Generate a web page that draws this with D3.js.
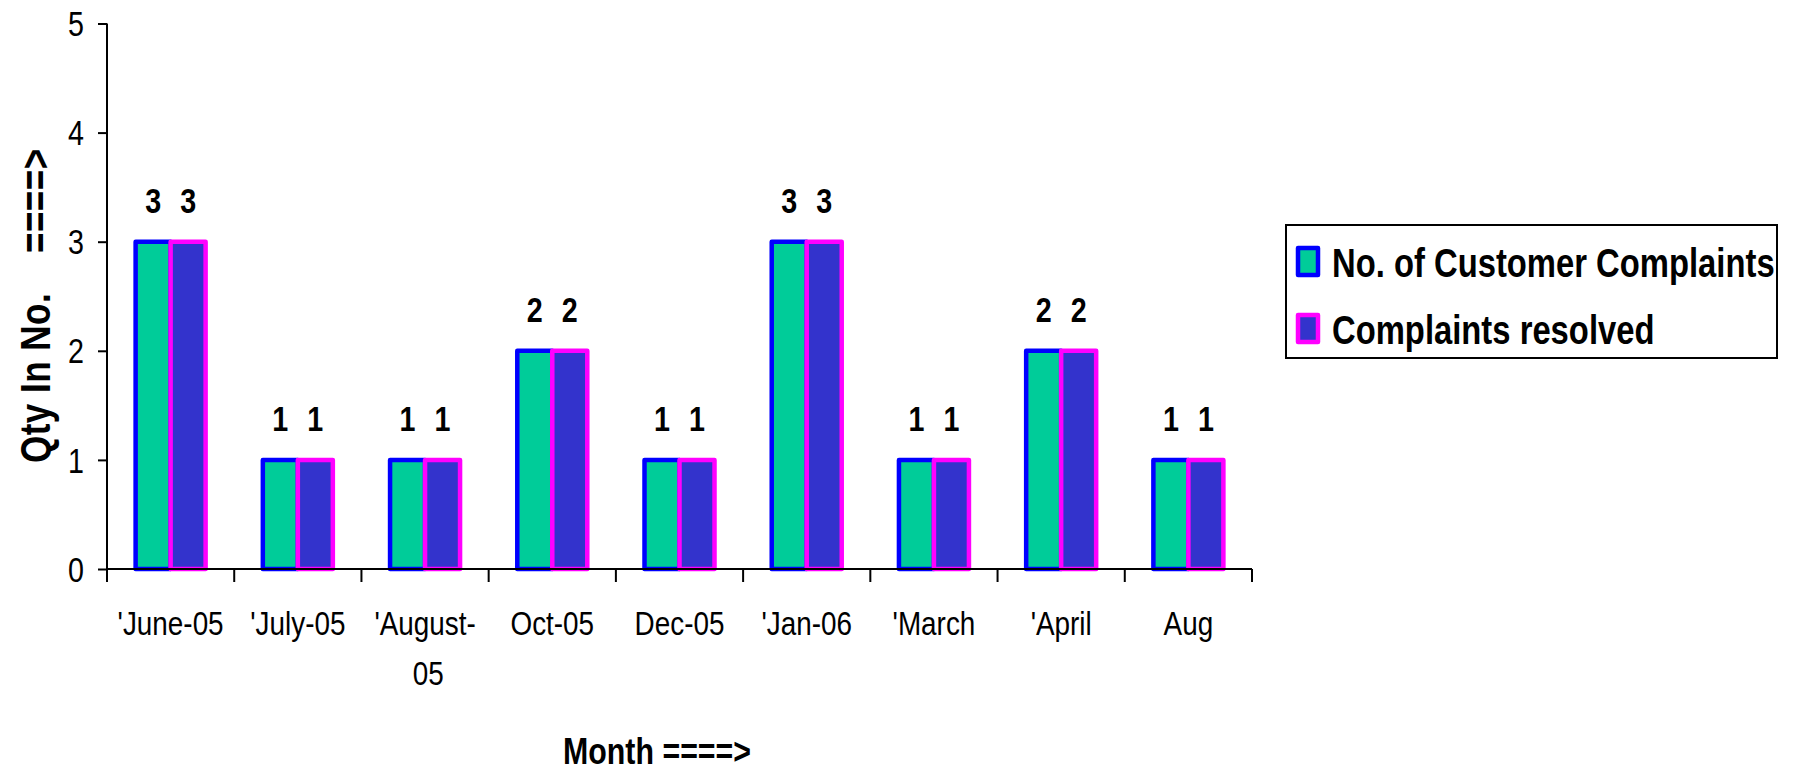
<!DOCTYPE html>
<html>
<head>
<meta charset="utf-8">
<script src="https://cdn.jsdelivr.net/npm/d3@7"></script>
<style>
  html, body { margin: 0; padding: 0; background: #fff; }
  svg { display: block; }
  text { font-family: "Liberation Sans", Arial, sans-serif; fill: #000; }
</style>
</head>
<body>
<svg id="chart" width="1808" height="773"></svg>
<script>
const categories = ["'June-05", "'July-05", "'August-05", "Oct-05", "Dec-05", "'Jan-06", "'March", "'April", "Aug"];
const complaints = [3, 1, 1, 2, 1, 3, 1, 2, 1];
const resolved   = [3, 1, 1, 2, 1, 3, 1, 2, 1];
const seriesNames = ["No. of Customer Complaints", "Complaints resolved"];
const yTicks = [0, 1, 2, 3, 4, 5];

(function () {
const svg = d3.select("#chart");
const plotLeft = 107, plotRight = 1252, plotTop = 23.5, plotBottom = 569;
const SX = 0.82; // narrow (condensed) font emulation

const fills = ["#00CC99", "#3333CC"];
const strokes = ["#0000FF", "#FF00FF"];

const x = d3.scaleBand().domain(categories).range([plotLeft, plotRight]).paddingInner(0).paddingOuter(0);
const y = d3.scaleLinear().domain([0, 5]).range([plotBottom, plotTop]);
const barW = 35;
const x1 = d3.scaleBand().domain([0, 1]).range([0, 2 * barW]);

const series = [complaints, resolved];

// bars
series.forEach((vals, si) => {
  svg.append("g").selectAll("rect")
    .data(vals.map((v, i) => ({ cat: categories[i], v })))
    .join("rect")
    .attr("x", d => x(d.cat) + x.bandwidth() / 2 - barW + x1(si))
    .attr("y", d => y(d.v))
    .attr("width", x1.bandwidth())
    .attr("height", d => y(0) - y(d.v))
    .attr("fill", fills[si])
    .attr("stroke", strokes[si])
    .attr("stroke-width", 4.5)
    .attr("stroke-linejoin", "round");
});

// data labels
series.forEach((vals, si) => {
  svg.append("g").selectAll("text")
    .data(vals.map((v, i) => ({ cat: categories[i], v })))
    .join("text")
    .attr("transform", d => `translate(${x(d.cat) + x.bandwidth() / 2 - barW + x1(si) + x1.bandwidth() / 2},${y(d.v) - 29}) scale(${SX},1)`)
    .attr("text-anchor", "middle")
    .style("font-size", "35px")
    .style("font-weight", "bold")
    .text(d => d.v);
});

// y axis
const yAxis = svg.append("g")
  .attr("transform", `translate(${plotLeft},0)`)
  .call(d3.axisLeft(y).tickValues(yTicks).tickSize(9).tickFormat(""));
yAxis.select(".domain").attr("stroke", "#000").attr("stroke-width", 2).attr("d", `M0,${plotTop}V${plotBottom}`);
yAxis.selectAll(".tick line").attr("stroke", "#000").attr("stroke-width", 2);
svg.append("g").selectAll("text").data(yTicks).join("text")
  .attr("transform", d => `translate(84,${y(d)}) scale(${SX},1)`)
  .attr("dy", "0.36em")
  .attr("text-anchor", "end")
  .style("font-size", "35px")
  .text(d => d3.format("d")(d));

// x axis (ticks at band boundaries)
const xg = svg.append("g").attr("transform", `translate(0,${plotBottom})`);
xg.append("line").attr("x1", plotLeft).attr("x2", plotRight).attr("y1", 0).attr("y2", 0)
  .attr("stroke", "#000").attr("stroke-width", 2);
const boundaries = categories.map(c => x(c)).concat([plotRight]);
xg.selectAll("line.tk").data(boundaries).join("line").attr("class", "tk")
  .attr("x1", d => d).attr("x2", d => d).attr("y1", 0).attr("y2", 13)
  .attr("stroke", "#000").attr("stroke-width", 2);

const labels = xg.selectAll("text.xl").data(categories).join("text").attr("class", "xl")
  .attr("transform", d => `translate(${x(d) + x.bandwidth() / 2},66) scale(${SX},1)`)
  .attr("text-anchor", "middle")
  .style("font-size", "34px");
labels.each(function(d) {
  const t = d3.select(this);
  t.text(d);
  const len = this.getComputedTextLength() * SX;
  if (len > x.bandwidth() * 0.97 && d.lastIndexOf("-") > 0) {
    const k = d.lastIndexOf("-") + 1;
    t.text(null);
    t.append("tspan").attr("x", 0).attr("dy", 0).text(d.slice(0, k));
    t.append("tspan").attr("x", 4).attr("dy", 50).text(d.slice(k));
  }
});

// axis titles
svg.append("text")
  .attr("transform", `translate(657,764) scale(${SX},1)`)
  .attr("text-anchor", "middle")
  .style("font-size", "37px").style("font-weight", "bold")
  .text("Month ====>");

// y title: "Qty In No." then a wide gap, then "====>"
const yt = svg.append("text")
  .attr("transform", `translate(50,463) rotate(-90) scale(${SX},1)`)
  .attr("text-anchor", "start")
  .style("font-size", "44px").style("font-weight", "bold")
  .style("letter-spacing", "0.5px");
const ts1 = yt.append("tspan").text("Qty In No.");
const ts2 = yt.append("tspan").text("====>");
const l1 = ts1.node().getComputedTextLength() * SX;
const fs = Math.max(38, Math.min(48, 44 * 170 / l1));
yt.style("font-size", fs + "px");
const l1b = ts1.node().getComputedTextLength() * SX;
const gap = (463 - 253) - l1b; // "====>" begins 210px above the baseline start
ts2.attr("dx", gap / SX);

// legend
const lg = svg.append("g");
lg.append("rect").attr("x", 1286).attr("y", 225).attr("width", 491).attr("height", 133)
  .attr("fill", "#fff").attr("stroke", "#000").attr("stroke-width", 2);
seriesNames.forEach((name, i) => {
  const yy = 277 + i * 67;
  lg.append("rect").attr("x", 1298).attr("y", yy - 29).attr("width", 20).attr("height", 27)
    .attr("fill", fills[i]).attr("stroke", strokes[i]).attr("stroke-width", 4.5).attr("stroke-linejoin", "round");
  lg.append("text").attr("transform", `translate(1332,${yy}) scale(${SX},1)`)
    .style("font-size", "40px").style("font-weight", "bold")
    .text(name);
});
})();
</script>
</body>
</html>
